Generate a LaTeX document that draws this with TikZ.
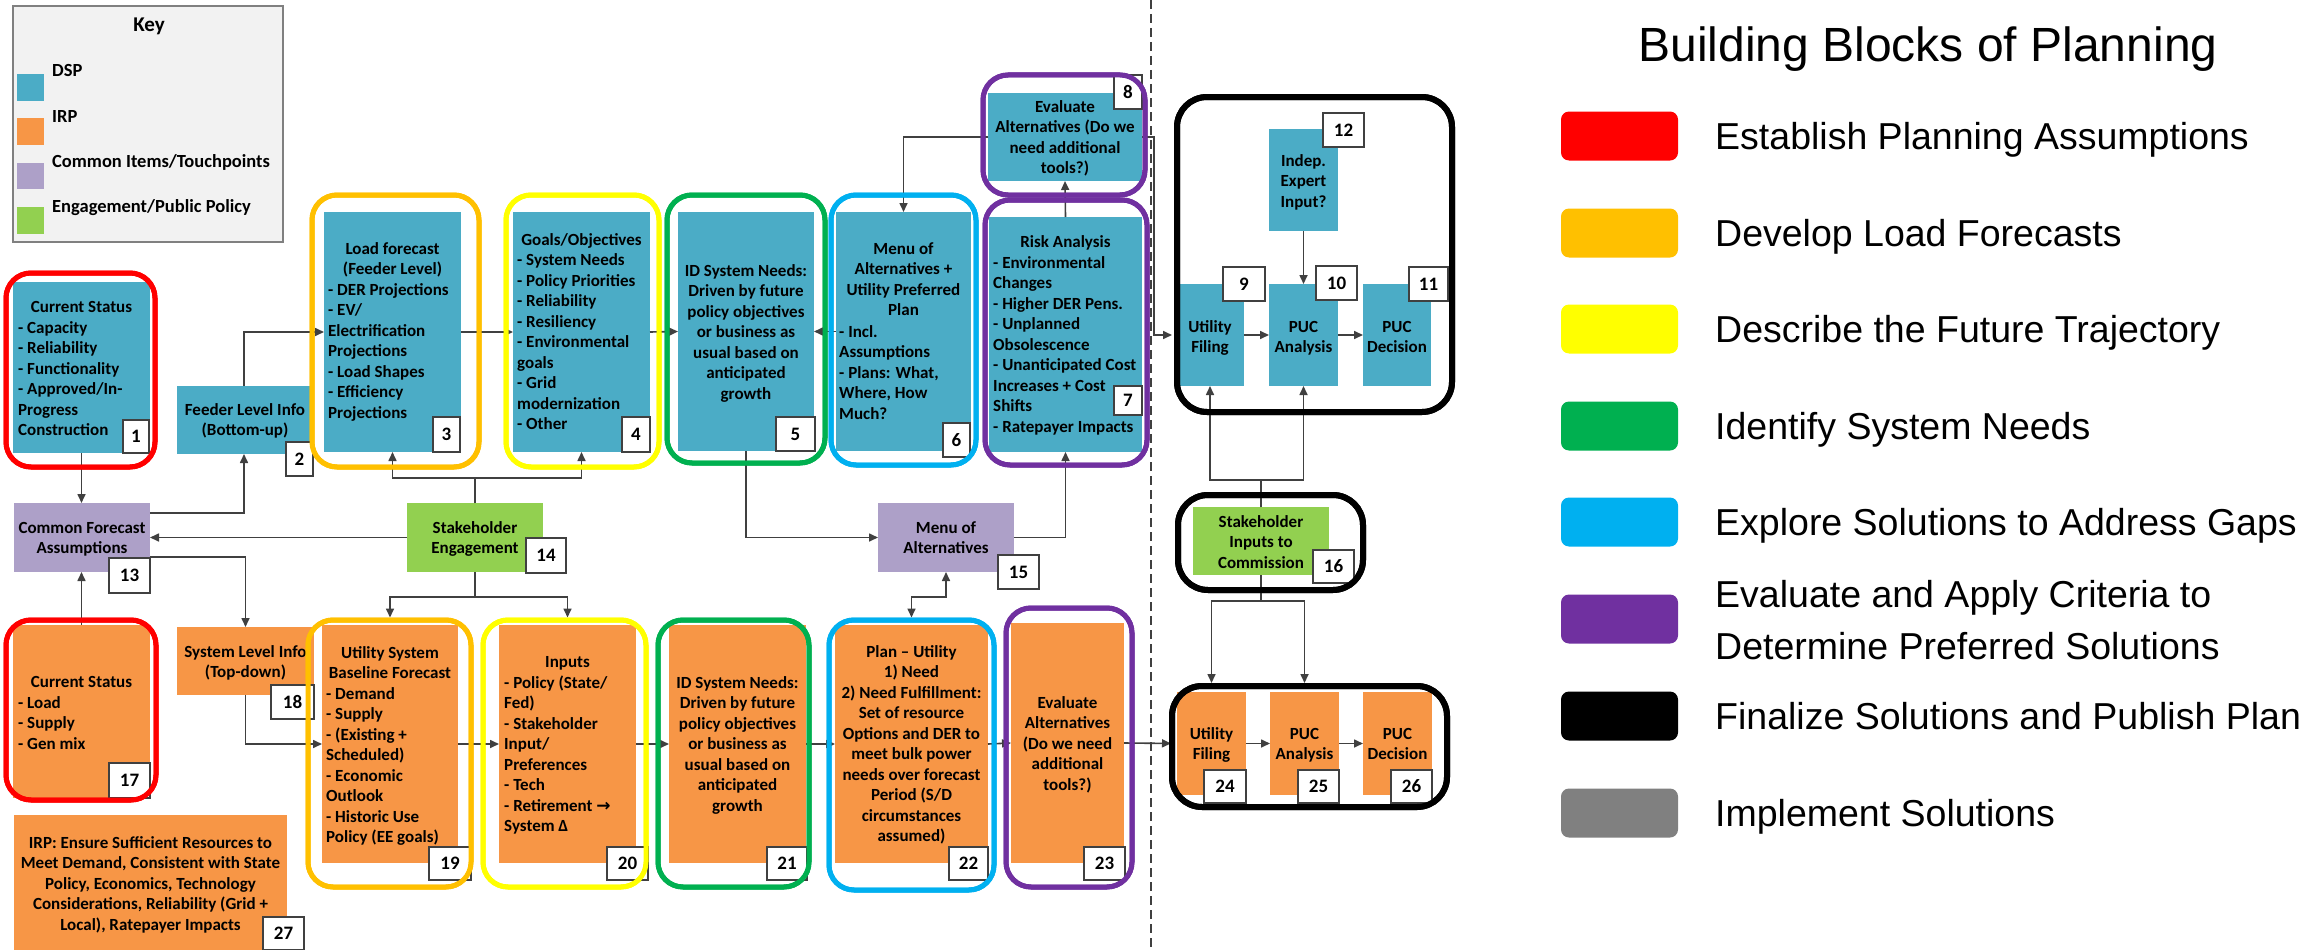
\documentclass[tikz,border=0pt]{standalone}
\usepackage{fontspec}
\setmainfont{Carlito}
\newfontfamily\arialf{Liberation Sans}
\newfontfamily\dvf{DejaVu Sans}
\usetikzlibrary{arrows.meta}
\definecolor{cDSP}{HTML}{4BACC6}
\definecolor{cIRP}{HTML}{F79646}
\definecolor{cCom}{HTML}{ADA0C8}
\definecolor{cEng}{HTML}{92D050}
\definecolor{fRed}{HTML}{FF0000}
\definecolor{fOra}{HTML}{FFC000}
\definecolor{fYel}{HTML}{FFFF00}
\definecolor{fGre}{HTML}{00B050}
\definecolor{fBlu}{HTML}{00B0F0}
\definecolor{fPur}{HTML}{7030A0}
\definecolor{fGry}{HTML}{808080}
\definecolor{cLine}{HTML}{404040}
\definecolor{cNum}{HTML}{404040}
\definecolor{cKey}{HTML}{F2F2F2}
\newcommand\fs{\rule{0pt}{15pt}}
\tikzset{
  blkbase/.style={inner sep=0pt, outer sep=0pt, draw=none, anchor=north west},
  dsp/.style={blkbase, fill=cDSP},
  irp/.style={blkbase, fill=cIRP},
  com/.style={blkbase, fill=cCom},
  eng/.style={blkbase, fill=cEng},
  frm/.style={draw=#1, line width=5pt, rounded corners=25pt, inner sep=0pt, outer sep=0pt, anchor=north west},
  frmk/.style={draw=black, line width=6pt, rounded corners=30pt, inner sep=0pt, outer sep=0pt, anchor=north west},
  numbox/.style={draw=cNum, fill=white, line width=1.5pt, inner sep=0pt, outer sep=0pt, anchor=north west,
    font=\fontsize{19}{22}\selectfont\bfseries},
  hd/.style={font=\fontsize{17}{20.5}\selectfont\bfseries, align=center, anchor=north, inner sep=0pt, yshift=15pt},
  ls/.style={font=\fontsize{17}{20.5}\selectfont\bfseries, align=left, anchor=north west, inner sep=0pt, yshift=15pt},
  conn/.style={draw=cLine, line width=1.6pt, -{Triangle[length=9pt,width=8pt]}},
  conn2/.style={draw=cLine, line width=1.6pt, {Triangle[length=9pt,width=8pt]}-{Triangle[length=9pt,width=8pt]}},
  legbox/.style={rounded corners=8pt, inner sep=0pt, outer sep=0pt, anchor=west, minimum width=117pt, minimum height=49pt},
  legtxt/.style={font=\arialf\fontsize{37.5}{52}\selectfont, align=left, anchor=base west, inner sep=0pt},
  keylab/.style={font=\fontsize{18.5}{21}\selectfont\bfseries, anchor=base west, inner sep=0pt},
}
\newcommand\bx[6]{\node[#2, minimum width={#5-#3}, minimum height={#6-#4}] (#1) at (#3,#4) {};}
\newcommand\nb[6]{\node[numbox, minimum width={#5-#3}, minimum height={#6-#4}] (#1) at (#3,#4) {#2};}
\newcommand\fr[6]{\node[frm=#2, minimum width={#5-#3}, minimum height={#6-#4}] (#1) at (#3,#4) {};}
\newcommand\frk[5]{\node[frmk, minimum width={#4-#2}, minimum height={#5-#3}] (#1) at (#2,#3) {};}
\begin{document}
\begin{tikzpicture}[x=1pt,y=-1pt]
\useasboundingbox (0,0) rectangle (2316,950);
\fill[white] (0,0) rectangle (2316,950);

% ---------- Key ----------
\node[blkbase, fill=cKey, draw=gray, line width=1.5pt, minimum width=270pt, minimum height=236pt] (key) at (13,6) {};
\node[font=\fontsize{21}{24}\selectfont\bfseries, anchor=base, inner sep=0pt] (keyt) at (149,32) {Key};
\bx{kq1}{dsp}{17}{74}{44}{101}
\bx{kq2}{irp}{17}{118}{44}{145}
\bx{kq3}{com}{17}{163}{44}{189}
\bx{kq4}{eng}{17}{207}{44}{234}
\node[keylab] (kl1) at (52,77) {DSP};
\node[keylab] (kl2) at (52,122) {IRP};
\node[keylab] (kl3) at (52,167) {Common Items/Touchpoints};
\node[keylab] (kl4) at (52,212) {Engagement/Public Policy};

% ---------- divider ----------
\draw[cLine, line width=2pt, dash pattern=on 9pt off 5pt] (1151,0) -- (1151,950);

% ---------- blocks ----------
\bx{b1}{dsp}{13}{282}{150}{453}
\bx{b2}{dsp}{177}{386}{311}{454}
\bx{b3}{dsp}{324}{212}{461}{452}
\bx{b4}{dsp}{513}{212}{650}{452}
\bx{b5}{dsp}{678}{212}{814}{451}
\bx{b6}{dsp}{836}{212}{971}{451}
\bx{b7}{dsp}{989}{217}{1142}{452}
\bx{b8}{dsp}{988}{93}{1142}{181}
\bx{b9}{dsp}{1176}{284}{1244}{386}
\bx{b10}{dsp}{1269}{284}{1338}{386}
\bx{b11}{dsp}{1363}{284}{1431}{386}
\bx{b12}{dsp}{1269}{129}{1338}{231}
\bx{b13}{com}{14}{503}{150}{572}
\bx{b14}{eng}{407}{503}{543}{572}
\bx{b15}{com}{878}{503}{1014}{572}
\bx{b16}{eng}{1193}{507}{1329}{575}
\bx{b17}{irp}{13}{625}{150}{798}
\bx{b18}{irp}{177}{627}{314}{695}
\bx{b19}{irp}{322}{625}{458}{863}
\bx{b20}{irp}{499}{625}{636}{863}
\bx{b21}{irp}{669}{625}{806}{863}
\bx{b22}{irp}{835}{625}{988}{863}
\bx{b23}{irp}{1011}{623}{1124}{863}
\bx{b24}{irp}{1177}{692}{1246}{795}
\bx{b25}{irp}{1270}{692}{1339}{795}
\bx{b26}{irp}{1363}{692}{1432}{795}
\bx{b27}{irp}{14}{815}{287}{950}

% ---------- texts (coordinates = first baseline) ----------
\node[hd] (t1h) at (81.5,312) {\fs Current Status};
\node[ls] (t1l) at (18,333) {\fs - Capacity\\- Reliability\\- Functionality\\- Approved/In-\\Progress\\Construction};
\node[hd] (t2) at (245,415) {\fs Feeder Level Info\\(Bottom-up)};
\node[hd] (t3h) at (392.5,254) {\fs Load forecast\\(Feeder Level)};
\node[ls] (t3l) at (328,295) {\fs - DER Projections\\- EV/\\Electrification\\Projections\\- Load Shapes\\- Efficiency\\Projections};
\node[hd] (t4h) at (581.5,245) {\fs Goals/Objectives};
\node[ls] (t4l) at (517,265.5) {\fs - System Needs\\- Policy Priorities\\- Reliability\\- Resiliency\\- Environmental\\goals\\- Grid\\modernization\\- Other};
\node[hd] (t5) at (746,276) {\fs ID System Needs:\\Driven by future\\policy objectives\\or business as\\usual based on\\anticipated\\growth};
\node[hd] (t6h) at (903.5,254) {\fs Menu of\\Alternatives +\\Utility Preferred\\Plan};
\node[ls] (t6l) at (839,337) {\fs - Incl.\\Assumptions\\- Plans: What,\\Where, How\\Much?};
\node[hd] (t7h) at (1065.5,247) {\fs Risk Analysis};
\node[ls] (t7l) at (993,268) {\fs - Environmental\\Changes\\- Higher DER Pens.\\- Unplanned\\Obsolescence\\- Unanticipated Cost\\Increases + Cost\\Shifts\\- Ratepayer Impacts};
\node[hd] (t8) at (1065,112) {\fs Evaluate\\Alternatives (Do we\\need additional\\tools?)};
\node[hd] (t9) at (1210,332) {\fs Utility\\Filing};
\node[hd] (t10) at (1303.5,332) {\fs PUC\\Analysis};
\node[hd] (t11) at (1397,332) {\fs PUC\\Decision};
\node[hd] (t12) at (1303.5,166) {\fs Indep.\\Expert\\Input?};
\node[hd] (t13) at (82,533) {\fs Common Forecast\\Assumptions};
\node[hd] (t14) at (475,533) {\fs Stakeholder\\Engagement};
\node[hd] (t15) at (946,533) {\fs Menu of\\Alternatives};
\node[hd] (t16) at (1261,527) {\fs Stakeholder\\Inputs to\\Commission};
\node[hd] (t17h) at (81.5,687) {\fs Current Status};
\node[ls] (t17l) at (18,708) {\fs - Load\\- Supply\\- Gen mix};
\node[hd] (t18) at (245.5,657) {\fs System Level Info\\(Top-down)};
\node[hd] (t19h) at (390,658) {\fs Utility System\\Baseline Forecast};
\node[ls] (t19l) at (326,699) {\fs - Demand\\- Supply\\- (Existing +\\Scheduled)\\- Economic\\Outlook\\- Historic Use\\Policy (EE goals)};
\node[hd] (t20h) at (567.5,667) {\fs Inputs};
\node[ls] (t20l) at (504,688) {\fs - Policy (State/\\Fed)\\- Stakeholder\\Input/\\Preferences\\- Tech\\- Retirement {\dvf\bfseries →}\\System Δ};
\node[hd] (t21) at (737.5,688) {\fs ID System Needs:\\Driven by future\\policy objectives\\or business as\\usual based on\\anticipated\\growth};
\node[hd] (t22) at (911.5,657) {\fs Plan – Utility\\1) Need\\2) Need Fulfillment:\\Set of resource\\Options and DER to\\meet bulk power\\needs over forecast\\Period (S/D\\circumstances\\assumed)};
\node[hd] (t23) at (1067.5,708) {\fs Evaluate\\Alternatives\\(Do we need\\additional\\tools?)};
\node[hd] (t24) at (1211.5,739) {\fs Utility\\Filing};
\node[hd] (t25) at (1304.5,739) {\fs PUC\\Analysis};
\node[hd] (t26) at (1397.5,739) {\fs PUC\\Decision};
\node[hd] (t27) at (150.5,848) {\fs IRP: Ensure Sufficient Resources to\\Meet Demand, Consistent with State\\Policy, Economics, Technology\\Considerations, Reliability (Grid +\\Local), Ratepayer Impacts};

% ---------- frames (as nodes, for anchors) ----------
\fr{f1}{fRed}{6}{273}{155}{467}
\fr{f3}{fOra}{312}{195}{479}{467}
\fr{f4}{fYel}{506}{195}{659}{467}
\fr{f5}{fGre}{667}{195}{825}{463}
\fr{f6}{fBlu}{831}{195}{976}{465}
\fr{f7}{fPur}{985}{200}{1147}{465}
\fr{f8}{fPur}{983}{75}{1145}{195}
\fr{f17}{fRed}{6}{620}{156}{800}
\fr{f19}{fOra}{308}{620}{471}{887}
\fr{f20}{fYel}{483}{620}{646}{887}
\fr{f21}{fGre}{658}{620}{809}{887}
\fr{f22}{fBlu}{829}{620}{994}{890}
\fr{f23}{fPur}{1006}{608}{1132}{887}
\frk{f9}{1177}{97}{1452}{412}
\frk{f16}{1178}{495}{1363}{590}
\frk{f24}{1172}{686}{1447}{807}

% ---------- connectors ----------
\draw[conn] (b1.south) -- (b1.south |- b13.north);
\draw[conn] (b13.north east) ++(0,10) -| (b2.south);
\draw[conn] (b2.north) |- (b3.west);
\draw[conn] (b3.east) -- (b4.west);
\draw[conn] (b4.east) -- (b5.west);
\draw[conn] (b6.west) -- (b5.east);
\draw[conn] (b14.west) -- (b13.east);
\draw[conn] (b14.north) -- ++(0,-25) -| (b3.south);
\draw[conn] (b14.north) -- ++(0,-25) -| (b4.south);
\draw[conn, shorten >=2.5pt] (b14.south) -- ++(0,25) -| (b19.north |- f19.north);
\draw[conn, shorten >=2.5pt] (b14.south) -- ++(0,25) -| (b20.north |- f20.north);
\draw[conn] (b13.south east) ++(0,-15) -| (b18.north);
\draw[conn] (b17.north) -- (b17.north |- b13.south);
\draw[conn] (b18.south) |- (b19.west);
\draw[conn] (b19.east) -- (b20.west);
\draw[conn] (b20.east) -- (b21.west);
\draw[conn] (b21.east) -- (b22.west);
\draw[conn] (b22.east) -- (b23.west);
\draw[conn, shorten >=6pt] (b23.east) -- (b24.west);
\draw[conn] (b24.east) -- (b25.west);
\draw[conn] (b25.east) -- (b26.west);
\draw[conn] (b5.south) |- (b15.west);
\draw[conn] (b15.east) -| (b7.south);
\draw[conn2, shorten >=2.5pt] (b15.south) -- ++(0,25) -| (b22.north |- f22.north);
\draw[conn] (b7.north) -- (b8.south);
\draw[conn] (b8.west) -| (b6.north);
\draw[conn, shorten >=4pt] (b8.east) -- ++(12,0) |- (b9.west);
\draw[conn] (b12.south) -- (b10.north);
\draw[conn] (b9.east) -- (b10.west);
\draw[conn] (b10.east) -- (b11.west);
\draw[conn] (b16.north) -- ++(0,-27) -| (b9.south);
\draw[conn] (b16.north) -- ++(0,-27) -| (b10.south);
\draw[conn, shorten >=3pt] (b16.south) -- ++(0,26) -| (b24.north |- f24.north);
\draw[conn, shorten >=3pt] (b16.south) -- ++(0,26) -| (b25.north |- f24.north);

% ---------- number boxes ----------
\nb{n1}{1}{123}{420}{149}{453}
\nb{n2}{2}{286}{442}{313}{476}
\nb{n3}{3}{433}{417}{460}{452}
\nb{n4}{4}{622}{417}{650}{452}
\nb{n5}{5}{776}{417}{815}{451}
\nb{n6}{6}{943}{423}{970}{457}
\nb{n7}{7}{1114}{386}{1142}{415}
\nb{n8}{8}{1114}{75}{1142}{109}
\nb{n9}{9}{1223}{267}{1265}{301}
\nb{n10}{10}{1316}{266}{1357}{300}
\nb{n11}{11}{1409}{267}{1448}{301}
\nb{n12}{12}{1323}{113}{1364}{147}
\nb{n13}{13}{109}{558}{150}{593}
\nb{n14}{14}{526}{538}{566}{573}
\nb{n15}{15}{998}{555}{1039}{589}
\nb{n16}{16}{1313}{550}{1354}{583}
\nb{n17}{17}{109}{763}{150}{798}
\nb{n18}{18}{271}{685}{314}{719}
\nb{n19}{19}{429}{847}{471}{880}
\nb{n20}{20}{607}{847}{648}{880}
\nb{n21}{21}{767}{847}{807}{880}
\nb{n22}{22}{949}{847}{988}{880}
\nb{n23}{23}{1084}{847}{1125}{880}
\nb{n24}{24}{1204}{770}{1246}{803}
\nb{n25}{25}{1298}{770}{1339}{803}
\nb{n26}{26}{1391}{770}{1432}{803}
\nb{n27}{27}{263}{917}{304}{950}

% redraw frames on top
\fr{g1}{fRed}{6}{273}{155}{467}
\fr{g3}{fOra}{312}{195}{479}{467}
\fr{g4}{fYel}{506}{195}{659}{467}
\fr{g5}{fGre}{667}{195}{825}{463}
\fr{g6}{fBlu}{831}{195}{976}{465}
\fr{g7}{fPur}{985}{200}{1147}{465}
\fr{g8}{fPur}{983}{75}{1145}{195}
\fr{g17}{fRed}{6}{620}{156}{800}
\fr{g19}{fOra}{308}{620}{471}{887}
\fr{g20}{fYel}{483}{620}{646}{887}
\fr{g21}{fGre}{658}{620}{809}{887}
\fr{g22}{fBlu}{829}{620}{994}{890}
\fr{g23}{fPur}{1006}{608}{1132}{887}
\frk{g9}{1177}{97}{1452}{412}
\frk{g16}{1178}{495}{1363}{590}
\frk{g24}{1172}{686}{1447}{807}

% ---------- legend ----------
\node[font=\arialf\fontsize{48}{54}\selectfont, anchor=base, inner sep=0pt] (ltitle) at (1928,62) {Building Blocks of Planning};
\node[legbox, fill=fRed] (lg1) at (1561,136) {};
\node[legbox, fill=fOra] (lg2) at (1561,233) {};
\node[legbox, fill=fYel] (lg3) at (1561,329) {};
\node[legbox, fill=fGre] (lg4) at (1561,426) {};
\node[legbox, fill=fBlu] (lg5) at (1561,522) {};
\node[legbox, fill=fPur] (lg6) at (1561,619) {};
\node[legbox, fill=black] (lg7) at (1561,716) {};
\node[legbox, fill=fGry] (lg8) at (1561,813) {};
\node[legtxt] (lt1) at (1715,149) {Establish Planning Assumptions};
\node[legtxt] (lt2) at (1715,246) {Develop Load Forecasts};
\node[legtxt] (lt3) at (1715,342) {Describe the Future Trajectory};
\node[legtxt] (lt4) at (1715,439) {Identify System Needs};
\node[legtxt] (lt5) at (1715,535) {Explore Solutions to Address Gaps};
\node[legtxt] (lt6) at (1715,659) {Evaluate and Apply Criteria to\\Determine Preferred Solutions};
\node[legtxt] (lt7) at (1715,729) {Finalize Solutions and Publish Plan};
\node[legtxt] (lt8) at (1715,826) {Implement Solutions};
\end{tikzpicture}
\end{document}
